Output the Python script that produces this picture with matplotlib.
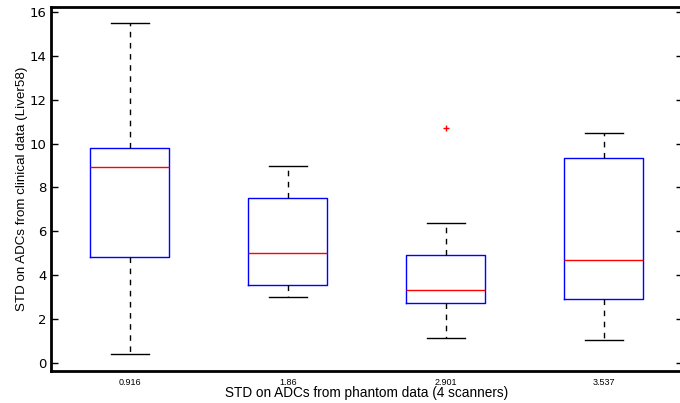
import matplotlib
matplotlib.use('Agg')
import matplotlib.pyplot as plt

plt.rcParams['font.family'] = ['Liberation Sans', 'DejaVu Sans']

# Box statistics for each phantom STD group
groups = ['0.916', '1.86', '2.901', '3.537']
whisker_low = [0.39, 3.02, 1.12, 1.03]
q1 = [4.85, 3.56, 2.75, 2.90]
median = [8.93, 5.00, 3.31, 4.68]
q3 = [9.78, 7.53, 4.90, 9.34]
whisker_high = [15.48, 8.98, 6.39, 10.50]
outliers = [[], [], [10.69], []]

stats = []
for i, name in enumerate(groups):
    stats.append(dict(label=name, whislo=whisker_low[i], q1=q1[i], med=median[i],
                      q3=q3[i], whishi=whisker_high[i], fliers=outliers[i]))

fig = plt.figure(figsize=(6.8, 4.03), dpi=100)
ax = fig.add_axes([0.075, 0.0794, 0.9294, 0.9032])

ax.bxp(stats, positions=[1, 2, 3, 4], widths=0.5, showfliers=True,
       boxprops=dict(color='#0000ff', linewidth=1.0),
       medianprops=dict(color='#ff0000', linewidth=1.0),
       whiskerprops=dict(color='black', linestyle=(0, (4, 4)), linewidth=1.0),
       capprops=dict(color='black', linewidth=1.0),
       capwidths=0.24,
       flierprops=dict(marker='+', markeredgecolor='#ff0000', markersize=4,
                       markeredgewidth=1.0, linestyle='none'))

ax.set_xlim(0.5, 4.5)
ax.set_ylim(-0.37, 16.23)
ax.set_yticks(range(0, 17, 2))
ax.set_xticks([1, 2, 3, 4])
ax.set_xticklabels(groups, fontsize=6.5)
ax.tick_params(axis='y', direction='in', length=5, width=1, labelsize=9.5,
               right=True, pad=3)
for lbl in ax.get_yticklabels():
    lbl.set_family('DejaVu Sans')
ax.tick_params(axis='x', length=0, pad=5)

for side in ['left', 'bottom', 'top']:
    ax.spines[side].set_linewidth(2)
ax.spines['right'].set_visible(False)

ax.set_xlabel('STD on ADCs from phantom data (4 scanners)', fontsize=9.8, labelpad=-1)
ax.set_ylabel('STD on ADCs from clinical data (Liver58)', fontsize=9.6, labelpad=1)

fig.savefig('out.png', dpi=100)
